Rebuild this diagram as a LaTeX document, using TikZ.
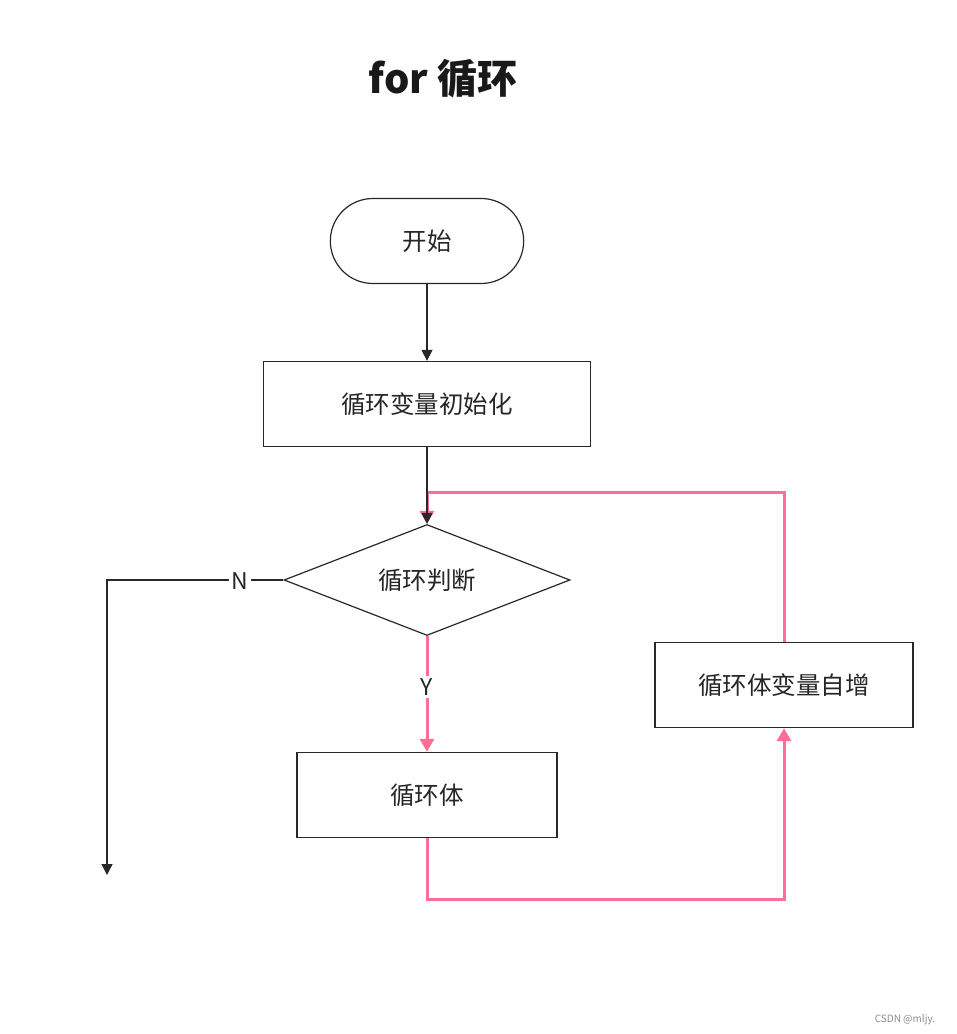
\documentclass[tikz,border=0pt]{standalone}
\usepackage{fontspec}
\setmainfont{Noto Sans CJK SC}
\usetikzlibrary{shapes.geometric,shapes.misc,arrows.meta}
\definecolor{pinkline}{RGB}{255,110,150}
\definecolor{edge}{RGB}{40,40,40}
\tikzset{
  box/.style={draw=edge,line width=1.3pt,minimum width=#1,minimum height=85pt,inner sep=0pt,font=\fontsize{24.5}{28}\selectfont,text=black!85},
  box/.default=260pt,
  term/.style={draw=edge,line width=1.2pt,rounded rectangle,minimum width=200pt,minimum height=85pt,font=\fontsize{24.5}{28}\selectfont,text=black!85},
  dec/.style={draw=edge,line width=1.2pt,diamond,aspect=2.58,minimum width=286pt,minimum height=111pt,inner sep=0pt,font=\fontsize{24.5}{28}\selectfont,text=black!85},
  blk/.style={draw=edge,line width=1.3pt,-{Triangle[length=11pt,width=11pt]}},
  pnk/.style={draw=pinkline,line width=3pt,-{Triangle[length=13pt,width=14pt]}},
  lbl/.style={fill=white,inner sep=3pt,font=\fontsize{23}{26}\selectfont,text=black!85}
}
\begin{document}
\begin{tikzpicture}[x=1pt,y=-1pt]
\useasboundingbox[fill=white] (0,0) rectangle (957,1034);
\node[font=\bfseries\fontsize{40}{45}\selectfont,text=black!90] (title) at (443,79) {for 循环};
\node[term] (start) at (427,241) {开始};
\node[box=327pt] (init) at (427,404) {循环变量初始化};
\node[dec] (cond) at (427,580) {循环判断};
\node[box=260pt] (body) at (427,795) {循环体};
\node[box=258pt] (inc) at (784,685) {循环体变量自增};
\coordinate (nend) at (107,875);
\coordinate (ncorner) at (107,580);
\coordinate (bcorner1) at (427,899);
\coordinate (bcorner2) at (784,899);
\coordinate (tcorner1) at (784,492);
\coordinate (tcorner2) at (427,492);
\node[font=\fontsize{10}{12}\selectfont,text=black!45] (wm) at (905,1020) {CSDN @mljy.};
% arrows
\draw[blk] (start.south) -- (init.north);
\draw[pnk] (inc.north) -- (tcorner1) -- (tcorner2) -- (cond.north);
\draw[blk] (init.south) -- (cond.north);
\draw[edge,line width=1.3pt,-{Triangle[length=11pt,width=11pt]}] (cond.west) -- (ncorner) -- (nend);
\node[lbl] (nlab) at (240,581) {N};
\draw[pnk] (cond.south) -- (body.north);
\node[lbl] (ylab) at (427,687) {Y};
\draw[pnk] (body.south) -- (bcorner1) -- (bcorner2) -- (inc.south);
\end{tikzpicture}
\end{document}
